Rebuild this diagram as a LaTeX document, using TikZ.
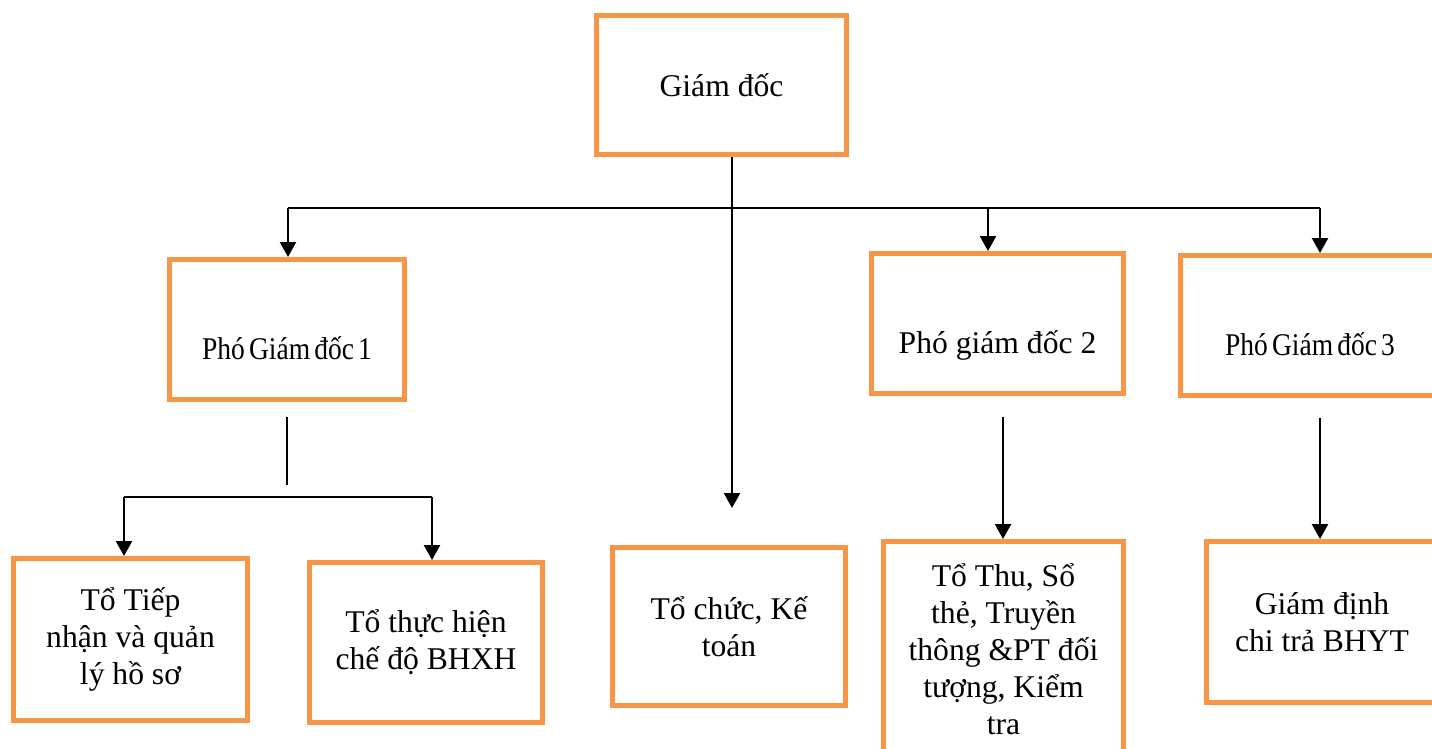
\documentclass[tikz,border=0pt]{standalone}
\usepackage{fontspec}
\setmainfont{Liberation Serif}
\newfontfamily\tightfont[FakeStretch=0.87,WordSpace=0.6]{Liberation Serif}
\usetikzlibrary{arrows.meta}
\definecolor{boxorange}{RGB}{247,150,70}

\begin{document}
\begin{tikzpicture}[x=0.02cm,y=-0.02cm,
box/.style={draw=boxorange,line width=2.85pt,align=center,font=\fontsize{18}{21}\selectfont},
pgdbox/.style={box,minimum height=2.8cm,text height=1.2cm,text depth=0pt},
link/.style={line width=1.3pt},
arr/.style={link,-{Triangle[length=0.3cm,width=0.32cm]}}]
\path[use as bounding box,clip] (0,0) rectangle (1432,749);

\node[box,minimum width=5cm,minimum height=2.78cm] (gd) at (721.5,85) {Giám đốc};
\node[pgdbox,minimum width=4.7cm] (pgd1) at (287,329.5) {\tightfont Phó Giám đốc 1};
\node[pgdbox,minimum width=5.06cm] (pgd2) at (997.5,323.5) {Phó giám đốc 2};
\node[pgdbox,minimum width=5.18cm] (pgd3) at (1310,325.5) {\tightfont Phó Giám đốc 3};

\node[box,minimum width=4.68cm,minimum height=3.24cm] (tiepnhan) at (130.5,639.5) {Tổ Tiếp\\nhận và quản\\lý hồ sơ};
\node[box,minimum width=4.66cm,minimum height=3.2cm] (chedo) at (426,642.5) {Tổ thực hiện\\chế độ BHXH};
\node[box,minimum width=4.66cm,minimum height=3.16cm] (ketoan) at (729,626.5) {Tổ chức, Kế\\toán};
\node[box,minimum width=4.8cm,minimum height=4.3cm] (thu) at (1003.5,649) {Tổ Thu, Sổ\\thẻ, Truyền\\thông \&PT đối\\tượng, Kiểm\\tra};
\node[box,minimum width=4.62cm,minimum height=3.22cm] (giamdinh) at (1322,622) {Giám định\\chi trả BHYT};

\coordinate (busl) at (288,208);
\coordinate (busc) at (732,208);
\coordinate (busm) at (988,208);
\coordinate (busr) at (1320,208);
\coordinate (ktend) at (732,508);
\coordinate (sub1a) at (287,417);
\coordinate (sub1b) at (287,485);
\coordinate (sub1l) at (124,497);
\coordinate (sub1r) at (432,497);
\coordinate (sub2) at (1003,417);
\coordinate (sub3) at (1320,418);

\draw[link] (busl) -- (busr);
\draw[arr] (busc |- gd.south) -- (ktend);
\draw[arr] (busl) -- (busl |- pgd1.north);
\draw[arr] (busm) -- (busm |- pgd2.north);
\draw[arr] (busr) -- (busr |- pgd3.north);

\draw[link] (sub1a) -- (sub1b);
\draw[link] (sub1l) -- (sub1r);
\draw[arr] (sub1l) -- (sub1l |- tiepnhan.north);
\draw[arr] (sub1r) -- (sub1r |- chedo.north);
\draw[arr] (sub2) -- (sub2 |- thu.north);
\draw[arr] (sub3) -- (sub3 |- giamdinh.north);
\end{tikzpicture}
\end{document}
